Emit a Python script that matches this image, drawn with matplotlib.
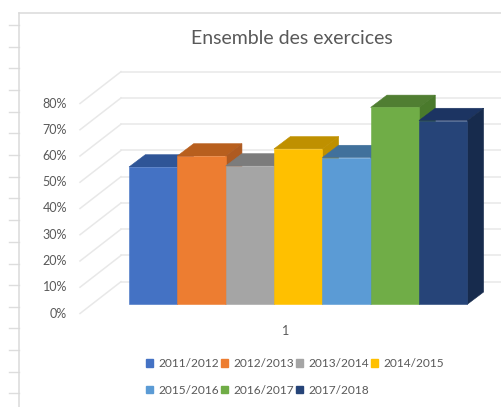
import matplotlib
matplotlib.use('Agg')
import matplotlib.pyplot as plt
from matplotlib.lines import Line2D
from matplotlib.patches import Polygon, Rectangle

plt.rcParams['font.family'] = ['Lato', 'DejaVu Sans']

W, H = 501, 407

# values
seasons = ['2011/2012', '2012/2013', '2013/2014', '2014/2015',
           '2015/2016', '2016/2017', '2017/2018']
values = [52.3, 56.5, 52.7, 59.2, 55.9, 75.0, 70.0]
y_ticks = [0, 10, 20, 30, 40, 50, 60, 70, 80]
category = '1'

front_colors = ['#4472C4', '#ED7D31', '#A5A5A5', '#FFC000',
                '#5B9BD5', '#70AD47', '#264478']
top_colors = ['#2F5597', '#B85F1E', '#7C7C7C', '#BF9000',
              '#41719C', '#507E32', '#1C3462']
side_colors = ['#2F5597', '#AE5A21', '#7C7C7C', '#BF9000',
               '#41719C', '#4A7A2C', '#172B4D']
grey = '#595959'
grid = '#E8E8E8'

# pixel scale of the data: one bar = 48.33 px, 1% = 2.625 px
x_px = 48.33
y_px = 2.625
x0 = 129.0
y0 = 304.3

fig = plt.figure(figsize=(W / 100, H / 100), dpi=100)
ax = fig.add_axes([0, 0, 1, 1])
ax.set_xlim(-x0 / x_px, (W - x0) / x_px)
ax.set_ylim((y0 - H) / y_px, y0 / y_px)
ax.axis('off')

# fake 3d: depth offsets in data units
bar_dx = 16.3 / x_px
bar_dy = 12.3 / y_px
wall_x = (121 - x0) / x_px
front_x = (80 - x0) / x_px
wall_y = (y0 - 281.7) / y_px
front_y = (y0 - 313.5) / y_px

# walls
for t in y_ticks:
    ax.plot([front_x, wall_x], [front_y + t, wall_y + t], color=grid, lw=1.1, zorder=1)
    ax.plot([wall_x, (W - x0) / x_px], [wall_y + t, wall_y + t], color=grid, lw=1.1, zorder=1)
    ax.text((67 - x0) / x_px, front_y + t, f'{t}%', color=grey, fontsize=9,
            ha='right', va='center')

# bars, left to right so each one hides the side of the previous
for i, v in enumerate(values):
    ax.add_patch(Polygon([(i, v), (i + 1, v), (i + 1 + bar_dx, v + bar_dy), (i + bar_dx, v + bar_dy)],
                         facecolor=top_colors[i], edgecolor=top_colors[i], lw=0.4, zorder=2 + i))
    ax.add_patch(Polygon([(i + 1, 0), (i + 1 + bar_dx, bar_dy), (i + 1 + bar_dx, v + bar_dy), (i + 1, v)],
                         facecolor=side_colors[i], edgecolor=side_colors[i], lw=0.4, zorder=2 + i))
    ax.bar(i, v, width=1, align='edge', color=front_colors[i], edgecolor=front_colors[i],
           lw=0.4, zorder=2 + i + 0.5)

ax.text(3.25, (y0 - 331) / y_px, category, color=grey, fontsize=9, ha='center', va='center')
fig.text(292 / W, 1 - 38 / H, 'Ensemble des exercices', color=grey, fontsize=14,
         ha='center', va='center')

# legend fills column by column, so reorder to read row by row
order = [0, 4, 1, 5, 2, 6, 3]
handles = [Rectangle((0, 0), 1, 1, color=front_colors[i]) for i in order]
ax.legend(handles, [seasons[i] for i in order], ncol=4, frameon=False, fontsize=8.6,
          labelcolor=grey, handlelength=0.6, handleheight=0.6, handletextpad=0.4,
          columnspacing=0.2, labelspacing=1.3, borderpad=0, borderaxespad=0,
          loc='center', bbox_to_anchor=(295 / W, 1 - 377 / H))

# sheet behind the chart: frame and row lines
for y in [24.7, 46.7, 68.3, 90, 111.7, 133.3, 155, 176.7, 198.3, 220, 242, 263.5,
          285, 306.7, 328, 350, 371.7, 393.3]:
    fig.add_artist(Line2D([9 / W, 18.5 / W], [1 - y / H, 1 - y / H], color='#DDDDDD', lw=1))
fig.add_artist(Line2D([18.5 / W, 18.5 / W], [0, 1 - 12.5 / H], color='#DADADA', lw=1.1))
fig.add_artist(Line2D([18.5 / W, 1], [1 - 12.5 / H, 1 - 12.5 / H], color='#DADADA', lw=1.1))

fig.savefig('out.png', dpi=100)
